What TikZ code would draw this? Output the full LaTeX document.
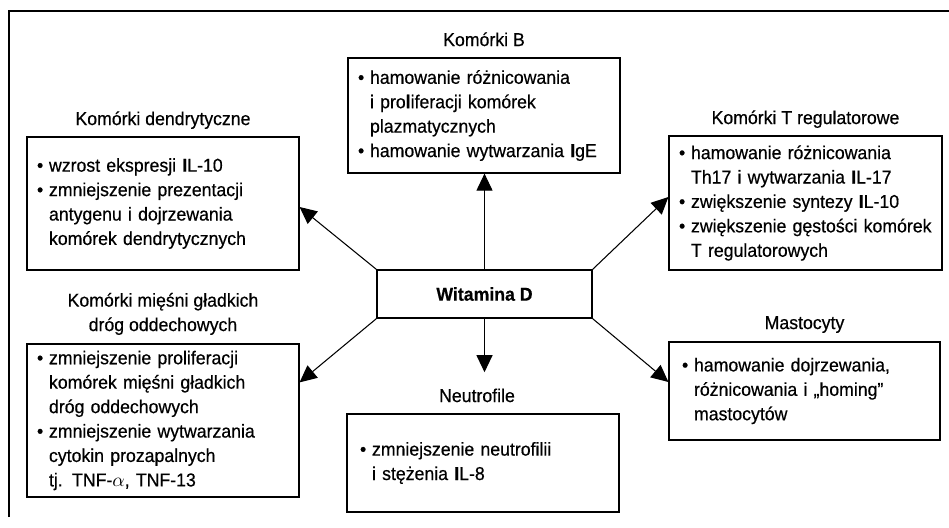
\documentclass[tikz,border=0pt]{standalone}
\usepackage{fontspec}
\setmainfont{Liberation Sans}[FakeStretch=0.95, FakeBold=0.5]
\usetikzlibrary{positioning,arrows.meta}
\newcommand{\pkt}{\makebox[0.24cm][l]{•}}
\newcommand{\wc}{\hspace*{0.24cm}}

\begin{document}
\begin{tikzpicture}[x=0.02cm, y=-0.02cm,
    font=\fontsize{10.6}{13.9}\selectfont,
    box/.style={draw, line width=0.7pt, inner xsep=0.2cm, inner ysep=0pt, align=left},
    title/.style={inner sep=0pt, text depth=0pt, align=center},
    strz/.style={line width=0.6pt, -{Triangle[length=0.34cm, width=0.32cm]}}]
    \useasboundingbox (0,0) rectangle (949,527);
    \draw[line width=0.7pt] (9,517) -- (9,11) -- (949,11);
    \node[box, align=center, font=\fontsize{10.6}{13.9}\selectfont\bfseries, minimum width=4.3cm, minimum height=0.96cm] (witD) at (484.5,294) {Witamina D};
    \node[box, text width=5.04cm, minimum height=2.66cm] (dendr) at (163,203.5) {\pkt wzrost ekspresji \textbf{I}L-10\\
        \pkt zmniejszenie prezentacji\\ \wc antygenu i dojrzewania\\ \wc komórek dendrytycznych};
    \node[box, text width=5.04cm, minimum height=2.30cm] (komB) at (484,115.5) {\pkt hamowanie różnicowania\\
        \wc i pro\textbf{l}iferacji komórek\\ \wc plazmatycznych\\ \pkt hamowanie wytwarzania \textbf{I}gE};
    \node[box, text width=5.06cm, minimum height=2.68cm] (treg) at (805.5,203) {\pkt hamowanie różnicowania\\
        \wc Th17 i wytwarzania \textbf{I}L-17\\ \pkt zwiększenie syntezy \textbf{I}L-10\\
        \pkt zwiększenie gęstości komórek\\ \wc T regulatorowych};
    \node[box, text width=5.04cm, minimum height=3.06cm] (miesn) at (163,420.5) {\pkt zmniejszenie proliferacji\\
        \wc komórek mięśni gładkich\\ \wc dróg oddechowych\\ \pkt zmniejszenie wytwarzania\\
        \wc cytokin prozapalnych\\ \wc tj. TNF-$\alpha$, TNF-13};
    \node[box, inner xsep=0.26cm, text width=4.92cm, minimum height=1.96cm] (neutro) at (483,463) {\pkt zmniejszenie neutrofilii\\
        \wc i stężenia \textbf{I}L-8};
    \node[box, inner xsep=0.26cm, text width=4.90cm, minimum height=1.96cm] (masto) at (804.5,391) {\pkt hamowanie dojrzewania,\\
        \wc różnicowania i „homing”\\ \wc mastocytów};
    % tytuly nad ramkami
    \node[title, above=0.22cm of dendr] (dendrT) {Komórki dendrytyczne};
    \node[title, above=0.22cm of komB] (komBT) {Komórki B};
    \node[title, above=0.22cm of treg] (tregT) {Komórki T regulatorowe};
    \node[title, above=0.24cm of miesn] (miesnT) {Komórki mięśni gładkich\\ dróg oddechowych};
    \node[title, above=0.22cm of neutro, xshift=-0.12cm] (neutroT) {Neutrofile};
    \node[title, above=0.24cm of masto] (mastoT) {Mastocyty};
    % strzalki
    \draw[strz] (witD.north) -- (witD.north |- komB.south);
    \draw[strz] (witD.north west) -- ([yshift=-0.07cm]dendr.east);
    \draw[strz] (witD.north east) -- ([yshift=0.12cm]treg.west);
    \draw[strz] (witD.south west) -- ([yshift=-0.78cm]miesn.north east);
    \draw[strz] (witD.south east) -- ([yshift=0.18cm]masto.west);
    \draw[strz] (witD.south) -- ([yshift=0.32cm]witD.south |- neutroT.north);
\end{tikzpicture}
\end{document}
